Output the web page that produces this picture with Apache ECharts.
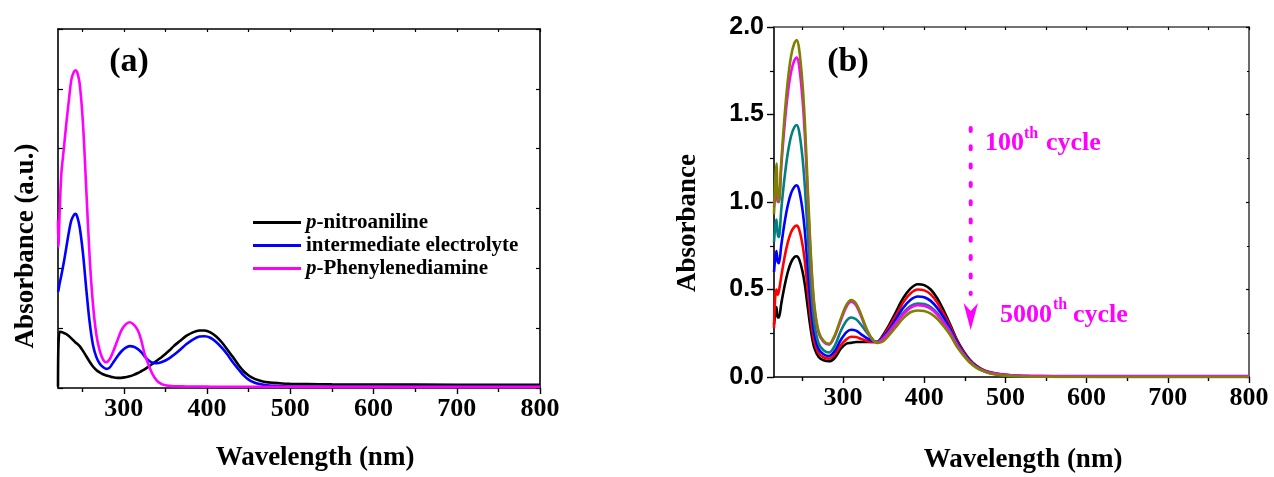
<!DOCTYPE html>
<html><head><meta charset="utf-8">
<script src="https://cdn.jsdelivr.net/npm/echarts@6/dist/echarts.min.js"></script>
<style>html,body{margin:0;padding:0;background:#fff}#c{width:1274px;height:477px}</style>
</head><body><div id="c"></div>
<script>
// ---------- Panel (a) data ----------
const wlA = [221,221.5,223,225,228, 231,234,237,240,242, 244,247,251,255,259, 263,267,271,275,279,
  283,287,292,297,302, 307,312,317,321,325, 330,335,340,345,350, 355,360,367,375,383,
  391,397,404,411,418, 425,431,438,444,450, 456,463,470,480,490, 500,520,550,600,700, 800];
const aNitro = [0.02,0.7,0.94,0.935,0.92, 0.9,0.87,0.83,0.79,0.76, 0.74,0.70,0.62,0.53,0.44, 0.36,0.30,0.26,0.23,0.21,
  0.195,0.18,0.17,0.17,0.18, 0.195,0.22,0.25,0.28,0.31, 0.36,0.41,0.46,0.51,0.57, 0.63,0.70,0.78,0.87,0.93,
  0.96,0.96,0.93,0.86,0.76, 0.63,0.52,0.38,0.28,0.21, 0.16,0.125,0.1,0.085,0.075, 0.07,0.065,0.06,0.058,0.055, 0.055];
const aInter = [1.61,1.63,1.75,1.88,2.1, 2.35,2.6,2.8,2.89,2.91, 2.87,2.69,2.25,1.65,1.1, 0.72,0.52,0.41,0.35,0.32,
  0.34,0.42,0.52,0.61,0.67, 0.70,0.69,0.65,0.6,0.53, 0.46,0.42,0.415,0.43,0.46, 0.5,0.55,0.63,0.73,0.81,
  0.86,0.865,0.84,0.77,0.67, 0.55,0.43,0.31,0.21,0.14, 0.095,0.065,0.048,0.035,0.028, 0.025,0.022,0.02,0.02,0.02, 0.02];
const aPPD = [2.80,2.36,2.95,3.58,4.0, 4.42,4.8,5.15,5.28,5.31, 5.28,5.09,4.42,3.31,2.19, 1.4,0.9,0.63,0.48,0.43,
  0.48,0.6,0.78,0.96,1.06, 1.10,1.06,0.96,0.8,0.57, 0.38,0.22,0.12,0.07,0.045, 0.035,0.03,0.028,0.026,0.025,
  0.024,0.023,0.022,0.022,0.021, 0.021,0.021,0.02,0.02,0.02, 0.02,0.02,0.02,0.02,0.02, 0.02,0.019,0.019,0.018,0.018, 0.018];
const namesA = ['p-nitroaniline','intermediate electrolyte','p-Phenylenediamine'];
const colorsA = ['#000000','#0000ff','#ff00ff'];

// ---------- Panel (b) data ----------
const wlB = [215,216.5,218,219.5,221, 224,228,232,236,240, 243,246,250,253,256, 259,262,265,270,276,
  283,290,297,304,310, 316,322,330,337,342, 348,356,365,374,383, 392,400,408,416,424,
  432,440,448,456,464, 472,480,490,500,515, 530,560,620,700,800];
const bBlack = [0.30,0.36,0.40,0.34,0.34, 0.42,0.52,0.6,0.655,0.685, 0.69,0.672,0.606,0.528,0.42, 0.312,0.222,0.162,0.114,0.096,
  0.09,0.11,0.16,0.19,0.195, 0.2,0.2,0.2,0.2,0.2, 0.23,0.29,0.37,0.45,0.505, 0.53,0.525,0.5,0.45,0.38,
  0.3,0.215,0.15,0.1,0.065, 0.042,0.028,0.018,0.012,0.007, 0.005,0.003,0.002,0.002,0.002];
const bRed = [0.28,0.46,0.50,0.47,0.49, 0.576,0.684,0.769,0.827,0.858, 0.865,0.842,0.759,0.66,0.523, 0.386,0.272,0.196,0.135,0.113,
  0.105,0.13,0.18,0.215,0.23, 0.228,0.218,0.205,0.2,0.2, 0.225,0.28,0.35,0.425,0.477, 0.50,0.495,0.472,0.425,0.36,
  0.29,0.21,0.146,0.097,0.063, 0.04,0.026,0.017,0.011,0.006, 0.004,0.003,0.002,0.002,0.002];
const bBlue = [0.6,0.68,0.72,0.66,0.65, 0.754,0.881,0.981,1.05,1.086, 1.095,1.066,0.959,0.832,0.656, 0.481,0.335,0.237,0.159,0.13,
  0.12,0.15,0.21,0.255,0.27, 0.265,0.245,0.22,0.205,0.2, 0.22,0.265,0.33,0.395,0.44, 0.46,0.456,0.435,0.395,0.34,
  0.275,0.2,0.14,0.093,0.06, 0.038,0.025,0.016,0.01,0.006, 0.004,0.002,0.001,0.001,0.001];
const bTeal = [0.77,0.86,0.9,0.82,0.8, 0.96,1.139,1.28,1.376,1.427, 1.44,1.401,1.258,1.089,0.855, 0.621,0.426,0.296,0.192,0.153,
  0.14,0.18,0.26,0.32,0.34, 0.33,0.3,0.25,0.21,0.2, 0.215,0.255,0.31,0.365,0.405, 0.42,0.417,0.4,0.365,0.315,
  0.26,0.19,0.134,0.089,0.058, 0.037,0.024,0.015,0.009,0.005, 0.003,0.001,0,0,0];
const bMagenta = [0.97,1.03,1.06,1.0,1.0, 1.206,1.437,1.619,1.743,1.809, 1.825,1.776,1.595,1.382,1.087, 0.792,0.546,0.382,0.251,0.201,
  0.185,0.235,0.32,0.4,0.43, 0.41,0.35,0.26,0.21,0.195, 0.213,0.25,0.305,0.357,0.395, 0.41,0.407,0.39,0.357,0.31,
  0.255,0.186,0.131,0.087,0.057, 0.037,0.026,0.018,0.012,0.008, 0.007,0.006,0.006,0.006,0.006];
const bOlive = [0.93,1.12,1.22,1.04,1.0, 1.231,1.49,1.694,1.833,1.907, 1.925,1.873,1.682,1.457,1.144, 0.832,0.572,0.398,0.259,0.207,
  0.19,0.24,0.33,0.41,0.44, 0.42,0.36,0.265,0.21,0.195, 0.2,0.235,0.285,0.335,0.37, 0.38,0.377,0.362,0.333,0.29,
  0.24,0.175,0.125,0.083,0.054, 0.035,0.022,0.013,0.008,0.004, 0.002,0.001,0,0,0];
const seriesB = [bBlack,bRed,bBlue,bTeal,bMagenta,bOlive];
const namesB = ['100th cycle','cycle 2','cycle 3','cycle 4','cycle 5','5000th cycle'];
const colorsB = ['#000000','#ff0000','#0000ff','#008080','#ff00ff','#808000'];

// ---------- ticks ----------
const xMajorTicks = [300,400,500,600,700,800];
const xMinorTicks = [250,350,450,550,650,750];

const SERIF = '"Liberation Serif","Times New Roman",serif';
const SANS = '"Liberation Sans",Arial,sans-serif';

function xAxes(grid, min) {
  return [
    { gridIndex: grid, type: 'value', min: min, max: 800, position: 'bottom',
      axisLine: { lineStyle: { color: '#000', width: 1.6 } },
      axisTick: { customValues: xMajorTicks, length: 6, lineStyle: { color: '#000', width: 1.4 } },
      axisLabel: { customValues: xMajorTicks, fontFamily: SERIF, fontWeight: 'bold', fontSize: 26, color: '#000', margin: 8 },
      splitLine: { show: false } },
    { gridIndex: grid, type: 'value', min: min, max: 800, position: 'bottom',
      axisLine: { show: false },
      axisTick: { customValues: xMinorTicks, length: 4, lineStyle: { color: '#000', width: 1.4 } },
      axisLabel: { show: false }, splitLine: { show: false } },
    { gridIndex: grid, type: 'value', min: min, max: 800, position: 'top',
      axisLine: { lineStyle: { color: grid ? '#444' : '#000', width: 1.6 } },
      axisTick: { customValues: xMajorTicks.concat(xMinorTicks), inside: true, length: 3, lineStyle: { color: '#000', width: 1.2 } },
      axisLabel: { show: false }, splitLine: { show: false } }
  ];
}

const option = {
  animation: false,
  backgroundColor: '#fff',
  grid: [
    { left: 58, top: 29, width: 482, height: 359, containLabel: false },
    { left: 774, top: 27, width: 475, height: 350, containLabel: false }
  ],
  xAxis: xAxes(0, 221).concat(xAxes(1, 215)),
  yAxis: [
    { gridIndex: 0, type: 'value', min: 0, max: 6, interval: 1, position: 'left',
      axisLine: { show: true, lineStyle: { color: '#000', width: 1.6 } },
      axisTick: { show: true, inside: true, length: 5, lineStyle: { color: '#000', width: 1.2 } },
      axisLabel: { show: false }, splitLine: { show: false } },
    { gridIndex: 0, type: 'value', min: 0, max: 6, interval: 1, position: 'right',
      axisLine: { show: true, lineStyle: { color: '#000', width: 1.6 } },
      axisTick: { show: true, inside: true, length: 4, lineStyle: { color: '#000', width: 1.2 } },
      axisLabel: { show: false }, splitLine: { show: false } },
    { gridIndex: 1, type: 'value', min: 0, max: 2, interval: 0.5, position: 'left',
      axisLine: { show: true, lineStyle: { color: '#000', width: 1.6 } },
      axisTick: { show: true, length: 7, lineStyle: { color: '#000', width: 1.4 } },
      minorTick: { show: true, splitNumber: 2, length: 4, lineStyle: { color: '#000', width: 1.2 } },
      axisLabel: { fontFamily: SANS, fontWeight: 'bold', fontSize: 25, color: '#000', margin: 10,
        formatter: v => v.toFixed(1) },
      splitLine: { show: false } },
    { gridIndex: 1, type: 'value', min: 0, max: 2, interval: 0.5, position: 'right',
      axisLine: { show: true, lineStyle: { color: '#444', width: 1.6 } },
      axisTick: { show: true, inside: true, length: 3, lineStyle: { color: '#000', width: 1.2 } },
      minorTick: { show: true, splitNumber: 2, length: 2, lineStyle: { color: '#000', width: 1 } },
      axisLabel: { show: false }, splitLine: { show: false } }
  ],
  legend: {
    left: 248, top: 207, orient: 'vertical', itemWidth: 48, itemHeight: 3, itemGap: 2,
    data: namesA.map(n => ({ name: n, icon: 'rect' })),
    formatter: n => n.startsWith('p-') ? '{i|p}{b|' + n.slice(1) + '}' : '{b|' + n + '}',
    textStyle: { rich: {
      i: { fontFamily: SERIF, fontStyle: 'italic', fontWeight: 'bold', fontSize: 21, color: '#000', lineHeight: 21 },
      b: { fontFamily: SERIF, fontWeight: 'bold', fontSize: 21, color: '#000', lineHeight: 21 }
    } }
  },
  series: [
    ...[aNitro, aInter, aPPD].map((vals, k) => ({
      name: namesA[k], type: 'line', xAxisIndex: 0, yAxisIndex: 0, symbol: 'none', smooth: 0.3,
      lineStyle: { color: colorsA[k], width: 2.6 }, itemStyle: { color: colorsA[k] },
      data: wlA.map((x, i) => [x, vals[i]]), z: 3 + k
    })),
    ...seriesB.map((vals, k) => ({
      name: namesB[k], type: 'line', xAxisIndex: 3, yAxisIndex: 2, symbol: 'none', smooth: 0.3,
      lineStyle: { color: colorsB[k], width: 2.6 }, itemStyle: { color: colorsB[k] },
      data: wlB.map((x, i) => [x, vals[i]]), z: 3 + k
    }))
  ],
  graphic: [
    { type: 'text', x: 129, y: 62, style: { text: '(a)', font: 'bold 34px ' + SERIF, fill: '#000', textAlign: 'center', textVerticalAlign: 'middle' } },
    { type: 'text', x: 848, y: 62, style: { text: '(b)', font: 'bold 34px ' + SERIF, fill: '#000', textAlign: 'center', textVerticalAlign: 'middle' } },
    { type: 'text', x: 315, y: 458, style: { text: 'Wavelength (nm)', font: 'bold 27px ' + SERIF, fill: '#000', textAlign: 'center', textVerticalAlign: 'middle' } },
    { type: 'text', x: 1023, y: 460, style: { text: 'Wavelength (nm)', font: 'bold 27px ' + SERIF, fill: '#000', textAlign: 'center', textVerticalAlign: 'middle' } },
    { type: 'text', x: 26, y: 246, rotation: Math.PI / 2, style: { text: 'Absorbance (a.u.)', font: 'bold 27px ' + SERIF, fill: '#000', textAlign: 'center', textVerticalAlign: 'middle' } },
    { type: 'text', x: 688, y: 223, rotation: Math.PI / 2, style: { text: 'Absorbance', font: 'bold 27px ' + SERIF, fill: '#000', textAlign: 'center', textVerticalAlign: 'middle' } },
    { type: 'line', shape: { x1: 970.7, y1: 128, x2: 970.7, y2: 294 }, style: { stroke: '#ff00ff', lineWidth: 4, lineDash: [3, 15.3], lineCap: 'round' } },
    { type: 'polygon', shape: { points: [[963.5, 303], [970.7, 330], [978, 303], [970.7, 311]] }, style: { fill: '#ff00ff' } },
    { type: 'text', x: 985, y: 143.5, style: { text: '100', font: 'bold 26px ' + SERIF, fill: '#ff00ff', textAlign: 'left', textVerticalAlign: 'middle' } },
    { type: 'text', x: 1024, y: 134, style: { text: 'th', font: 'bold 16px ' + SERIF, fill: '#ff00ff', textAlign: 'left', textVerticalAlign: 'middle' } },
    { type: 'text', x: 1046, y: 143.5, style: { text: 'cycle', font: 'bold 26px ' + SERIF, fill: '#ff00ff', textAlign: 'left', textVerticalAlign: 'middle' } },
    { type: 'text', x: 1000, y: 315, style: { text: '5000', font: 'bold 26px ' + SERIF, fill: '#ff00ff', textAlign: 'left', textVerticalAlign: 'middle' } },
    { type: 'text', x: 1053, y: 305, style: { text: 'th', font: 'bold 16px ' + SERIF, fill: '#ff00ff', textAlign: 'left', textVerticalAlign: 'middle' } },
    { type: 'text', x: 1073, y: 315, style: { text: 'cycle', font: 'bold 26px ' + SERIF, fill: '#ff00ff', textAlign: 'left', textVerticalAlign: 'middle' } }
  ]
};
const chart = echarts.init(document.getElementById('c'), null, { renderer: 'canvas' });
chart.setOption(option);
</script></body></html>
